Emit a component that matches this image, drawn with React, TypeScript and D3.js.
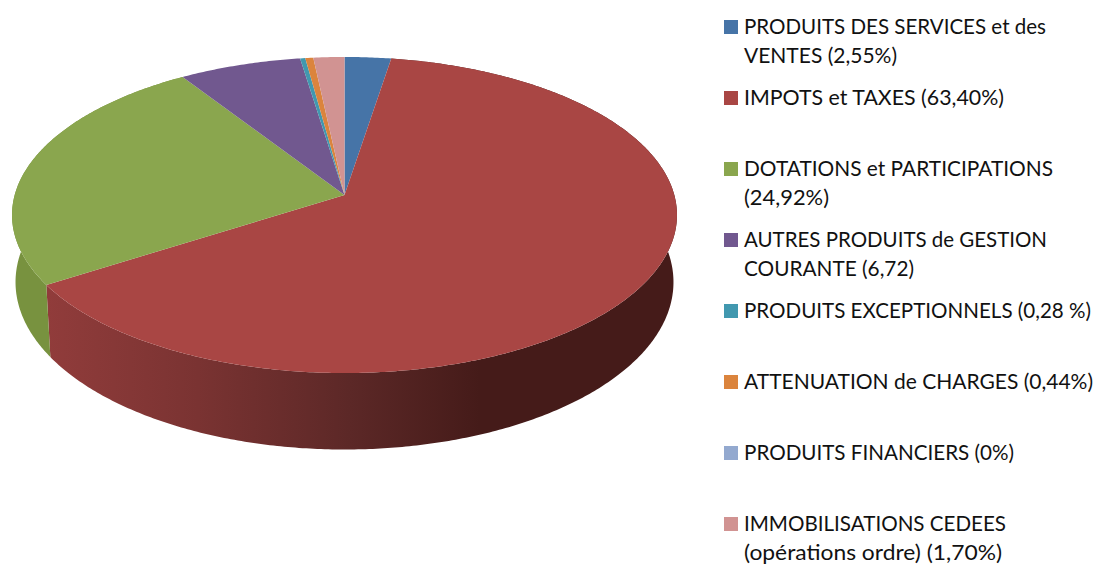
import { useEffect, useRef } from 'react'
import * as d3 from 'd3'

const categories = [
  ['PRODUITS DES SERVICES et des', 'VENTES (2,55%)'],
  ['IMPOTS et TAXES (63,40%)'],
  ['DOTATIONS et PARTICIPATIONS', '(24,92%)'],
  ['AUTRES PRODUITS de GESTION', 'COURANTE (6,72)'],
  ['PRODUITS EXCEPTIONNELS (0,28 %)'],
  ['ATTENUATION de CHARGES (0,44%)'],
  ['PRODUITS FINANCIERS (0%)'],
  ['IMMOBILISATIONS CEDEES', '(opérations ordre) (1,70%)'],
]
const values = [2.55, 63.4, 24.92, 6.72, 0.28, 0.44, 0, 1.7]
const colors = ['#4674a7', '#a94644', '#8aa64e', '#71588f', '#4198af', '#db843d', '#93a9cf', '#d19392']

// Lato runs narrower than the original font, so each legend line is fitted to its width
const labelWidths = [
  [302, 153],
  [260],
  [309, 85],
  [303, 170],
  [347],
  [349],
  [270],
  [262, 258],
]

// top and bottom faces of the pie, each one a circle seen in perspective
const topDisc = { cx: 344.5, cy: 195, r: 329.8, a: 155.5, k: 0.1266 }
const bottomDisc = { cx: 344.5, cy: 262, r: 326.6, a: 165, k: 0.12 }

type Disc = typeof topDisc

function project(d: Disc, angle: number): [number, number] {
  const x = Math.sin(angle)
  const y = -Math.cos(angle)
  const w = 1 - d.k * y
  return [d.cx + (d.r * x) / w, d.cy + (d.a * y) / w]
}

function arcPoints(d: Disc, start: number, end: number) {
  const steps = Math.max(2, Math.ceil((end - start) / 0.01))
  return d3.range(steps + 1).map(i => project(d, start + ((end - start) * i) / steps))
}

export default function App() {
  const svgRef = useRef<SVGSVGElement>(null)

  useEffect(() => {
    if (!svgRef.current) return

    const svg = d3.select(svgRef.current)
    svg.selectAll('*').remove()

    const line = d3.line()
    const slices = d3.pie<number>().sort(null)(values)

    // Side shading
    const defs = svg.append('defs')
    const redGrad = defs
      .append('linearGradient')
      .attr('id', 'side-red')
      .attr('gradientUnits', 'userSpaceOnUse')
      .attr('x1', 46)
      .attr('x2', 480)
      .attr('y1', 0)
      .attr('y2', 0)
    redGrad.append('stop').attr('offset', 0).attr('stop-color', '#913c3b')
    redGrad.append('stop').attr('offset', 0.35).attr('stop-color', '#7a3332')
    redGrad.append('stop').attr('offset', 0.7).attr('stop-color', '#5c2827')
    redGrad.append('stop').attr('offset', 1).attr('stop-color', '#451b19')

    // Only the two front slices show a side wall
    const sides = [
      { slice: slices[1], fill: 'url(#side-red)' },
      { slice: slices[2], fill: '#78923f' },
    ]
    sides.forEach(({ slice, fill }) => {
      const upper = arcPoints(topDisc, slice.startAngle, slice.endAngle)
      const lower = arcPoints(bottomDisc, slice.startAngle, slice.endAngle).reverse()
      svg
        .append('path')
        .attr('d', line([...upper, ...lower]) + 'Z')
        .attr('fill', fill)
    })

    // Top face
    slices.forEach((slice, i) => {
      if (slice.value === 0) return
      const rim = arcPoints(topDisc, slice.startAngle, slice.endAngle)
      svg
        .append('path')
        .attr('d', line([[topDisc.cx, topDisc.cy], ...rim]) + 'Z')
        .attr('fill', colors[i])
    })

    // Legend
    const legendY = d3
      .scaleLinear()
      .domain([0, categories.length - 1])
      .range([20, 517])

    categories.forEach((lines, i) => {
      const y = legendY(i)
      svg
        .append('rect')
        .attr('x', 724)
        .attr('y', y)
        .attr('width', 14)
        .attr('height', 14)
        .attr('fill', colors[i])

      lines.forEach((text, j) => {
        svg
          .append('text')
          .attr('x', 744)
          .attr('y', y + 13.5 + j * 29)
          .attr('font-family', 'Lato, sans-serif')
          .attr('font-size', 20.5)
          .attr('fill', '#111')
          .attr('textLength', labelWidths[i][j])
          .attr('lengthAdjust', 'spacingAndGlyphs')
          .text(text)
      })
    })
  }, [])

  return (
    <svg
      ref={svgRef}
      width={1093}
      height={565}
      style={{ position: 'absolute', left: 0, top: 0, display: 'block', background: '#fff' }}
    />
  )
}
